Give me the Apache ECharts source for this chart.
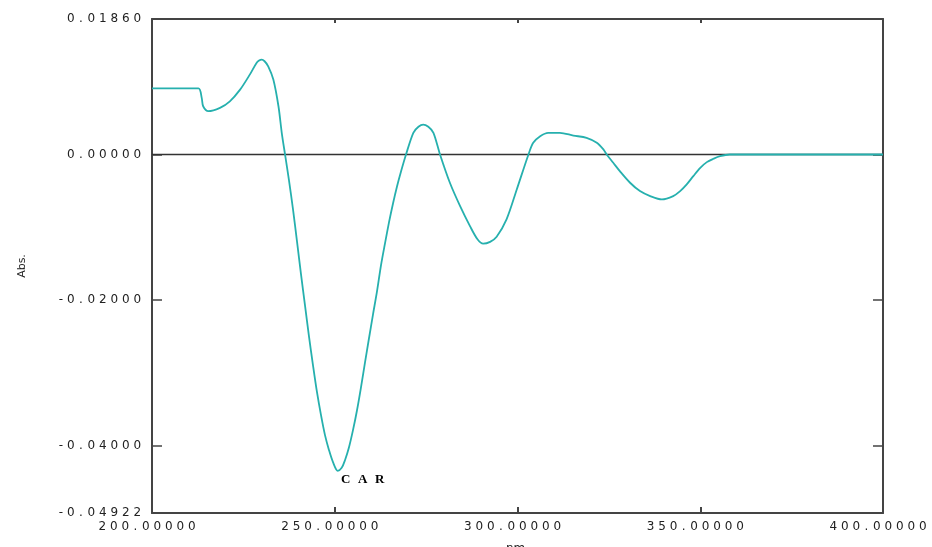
<!DOCTYPE html>
<html>
<head>
<meta charset="utf-8">
<script src="https://cdn.jsdelivr.net/npm/echarts@6/dist/echarts.min.js"></script>
<style>html,body{margin:0;padding:0;background:#fff}#c{width:932px;height:547px}</style>
</head>
<body>
<div id="c"></div>
<script>
// Wavelength (nm) and absorbance
const wavelengthNm = [200, 206, 212.7, 213.6, 214.0, 215.4, 218.6, 221.3, 224.1, 226.8, 228.6, 229.3, 230.0, 230.8, 231.8, 233.2, 234.6, 235.5, 236.4,
  237.48, 238.58, 239.67, 240.77, 241.86, 242.95, 244.05, 245.14, 246.24, 247.33, 248.43, 249.52, 250.81,
  251.90, 252.80, 253.90, 254.99, 256.09, 257.18, 258.28, 259.37, 260.47, 261.56, 262.65, 263.75, 264.84, 265.94, 267.03, 268.13, 269.5,
  271.5, 272.9, 274.2, 275.6, 277.0, 278.8, 281.5, 284.3, 287.0, 289.0, 290.6, 292.5, 294.3, 297.0, 299.8, 303.0,
  304.3, 306.2, 308.4, 311.6, 315.3, 318.9, 321.7, 323.5, 324.4, 326.2, 328.0, 330.8, 333.5, 336.3, 339.5,
  342.6, 344.5, 346.3, 348.1, 350.0, 351.8, 353.6, 355.4, 358.1, 400];
const absorbance = [0.00907, 0.00907, 0.00907, 0.00777, 0.00662, 0.00594, 0.0064, 0.0073, 0.0089, 0.0110, 0.01257, 0.0129, 0.01303, 0.0128, 0.01211, 0.01029, 0.00662, 0.00298, 0,
  -0.00357, -0.00754, -0.01193, -0.01646, -0.02071, -0.02496, -0.02894, -0.03264, -0.03579, -0.03853, -0.04059, -0.04224, -0.04343,
  -0.04302, -0.04197, -0.04019, -0.03785, -0.03511, -0.03196, -0.02853, -0.02523, -0.02194, -0.01879, -0.01522, -0.01220, -0.00932, -0.00672, -0.00439, -0.00233, 0,
  0.00298, 0.0038, 0.00411, 0.0038, 0.00298, 0, -0.00388, -0.00709, -0.00983, -0.0116, -0.01225, -0.0120, -0.01129, -0.00891, -0.0048, 0,
  0.0016, 0.00251, 0.00297, 0.00297, 0.0026, 0.00229, 0.0016, 0.00069, 0, -0.00114, -0.00229, -0.00388, -0.00503, -0.00571, -0.00617,
  -0.00571, -0.00503, -0.00411, -0.00297, -0.00183, -0.00105, -0.00059, -0.00023, 0, 0];

const xRange = [200, 400];
const xTickStep = 50;
const xInnerTicks = [250, 300, 350];
const yRange = [-0.04922, 0.0186];
const yLabelValues = [-0.04922, -0.04, -0.02, 0, 0.0186];
const yTickValues = [-0.04, -0.02, 0];
const peakLabel = 'CAR';
const peakPoint = [250.8, -0.04343];

const data = wavelengthNm.map((x, i) => [x, absorbance[i]]);
const zeroLine = [[xRange[0], 0], [xRange[1], 0]];

// short frame ticks on the bottom and top edges, expressed in axis units
const ySpan = yRange[1] - yRange[0];
const frameTicks = [];
xInnerTicks.forEach(v => {
  frameTicks.push([{coord: [v, yRange[0]]}, {coord: [v, yRange[0] + ySpan * 0.012]}]);
  frameTicks.push([{coord: [v, yRange[1]]}, {coord: [v, yRange[1] - ySpan * 0.007]}]);
});

function spaced(str) {
  return str.split('').map(ch => {
    if (ch === '.') return '{p|.}';
    if (ch === '-') return '{m|-}';
    return '{d|' + ch + '}';
  }).join('');
}
const labelFont = {fontFamily: 'DejaVu Sans', fontSize: 12, color: '#222'};
const labelRich = {
  d: Object.assign({width: 11.5, align: 'center'}, labelFont),
  p: Object.assign({width: 9, align: 'center'}, labelFont),
  m: Object.assign({width: 8, align: 'center'}, labelFont)
};
const axisLineStyle = {color: '#444', width: 2};

const chart = echarts.init(document.getElementById('c'), null, {renderer: 'canvas'});
chart.setOption({
  animation: false,
  backgroundColor: '#fff',
  grid: {left: 152, right: 49, top: 19, bottom: 34, outerBoundsMode: 'none'},
  xAxis: [{
    type: 'value', position: 'bottom', min: xRange[0], max: xRange[1], interval: xTickStep,
    name: 'nm.', nameLocation: 'middle', nameGap: 30,
    nameTextStyle: {fontFamily: 'DejaVu Sans', fontSize: 12, color: '#222'},
    axisLine: {show: true, onZero: false, lineStyle: axisLineStyle},
    axisTick: {show: true, inside: true, length: 6, lineStyle: {color: '#444', width: 2}},
    axisLabel: {margin: 8, showMinLabel: true, showMaxLabel: true, padding: [0, 10, 0, 0],
      formatter: v => spaced(Number(v).toFixed(5)), rich: labelRich},
    splitLine: {show: false}
  }, {
    type: 'value', position: 'top', min: xRange[0], max: xRange[1], interval: xTickStep,
    axisLine: {show: true, onZero: false, lineStyle: axisLineStyle},
    axisTick: {show: true, inside: true, length: 4, lineStyle: {color: '#444', width: 2}},
    axisLabel: {show: false},
    splitLine: {show: false}
  }],
  yAxis: [{
    type: 'value', position: 'left', min: yRange[0], max: yRange[1],
    name: 'Abs.', nameLocation: 'middle', nameGap: 124, nameRotate: 90,
    nameTextStyle: {fontFamily: 'DejaVu Sans', fontSize: 11, color: '#222'},
    axisLine: {show: true, onZero: false, lineStyle: axisLineStyle},
    axisTick: {show: true, inside: true, length: 10, customValues: yTickValues, lineStyle: {color: '#444', width: 1.5}},
    axisLabel: {margin: 9, customValues: yLabelValues, showMinLabel: true, showMaxLabel: true,
      formatter: v => spaced(Number(v).toFixed(5)), rich: labelRich},
    splitLine: {show: false}
  }, {
    type: 'value', position: 'right', min: yRange[0], max: yRange[1],
    axisLine: {show: true, onZero: false, lineStyle: axisLineStyle},
    axisTick: {show: true, inside: true, length: 10, customValues: yTickValues, lineStyle: {color: '#444', width: 1.5}},
    axisLabel: {show: false},
    splitLine: {show: false}
  }],
  series: [{
    type: 'line', data: zeroLine, xAxisIndex: 0, yAxisIndex: 0, z: 1,
    symbol: 'none', silent: true,
    lineStyle: {color: '#333', width: 1.5},
    markLine: {
      silent: true, symbol: ['none', 'none'], animation: false,
      label: {show: false},
      lineStyle: {color: '#444', width: 2, type: 'solid'},
      data: frameTicks
    }
  }, {
    type: 'line', data: data, xAxisIndex: 0, yAxisIndex: 0, z: 3,
    symbol: 'none', smooth: 0.3, silent: true,
    lineStyle: {color: '#26b0ae', width: 1.8},
    markPoint: {
      symbol: 'circle', symbolSize: 1, silent: true,
      itemStyle: {color: 'rgba(0,0,0,0)'},
      data: [{coord: peakPoint}],
      label: {
        show: true, position: [0, 3], align: 'left', verticalAlign: 'top',
        formatter: () => peakLabel.split('').map(c => '{c|' + c + '}').join(''),
        rich: {c: {width: 17, align: 'center', fontFamily: 'Liberation Serif', fontWeight: 'bold', fontSize: 13, color: '#000'}}
      }
    }
  }]
});
</script>
</body>
</html>
